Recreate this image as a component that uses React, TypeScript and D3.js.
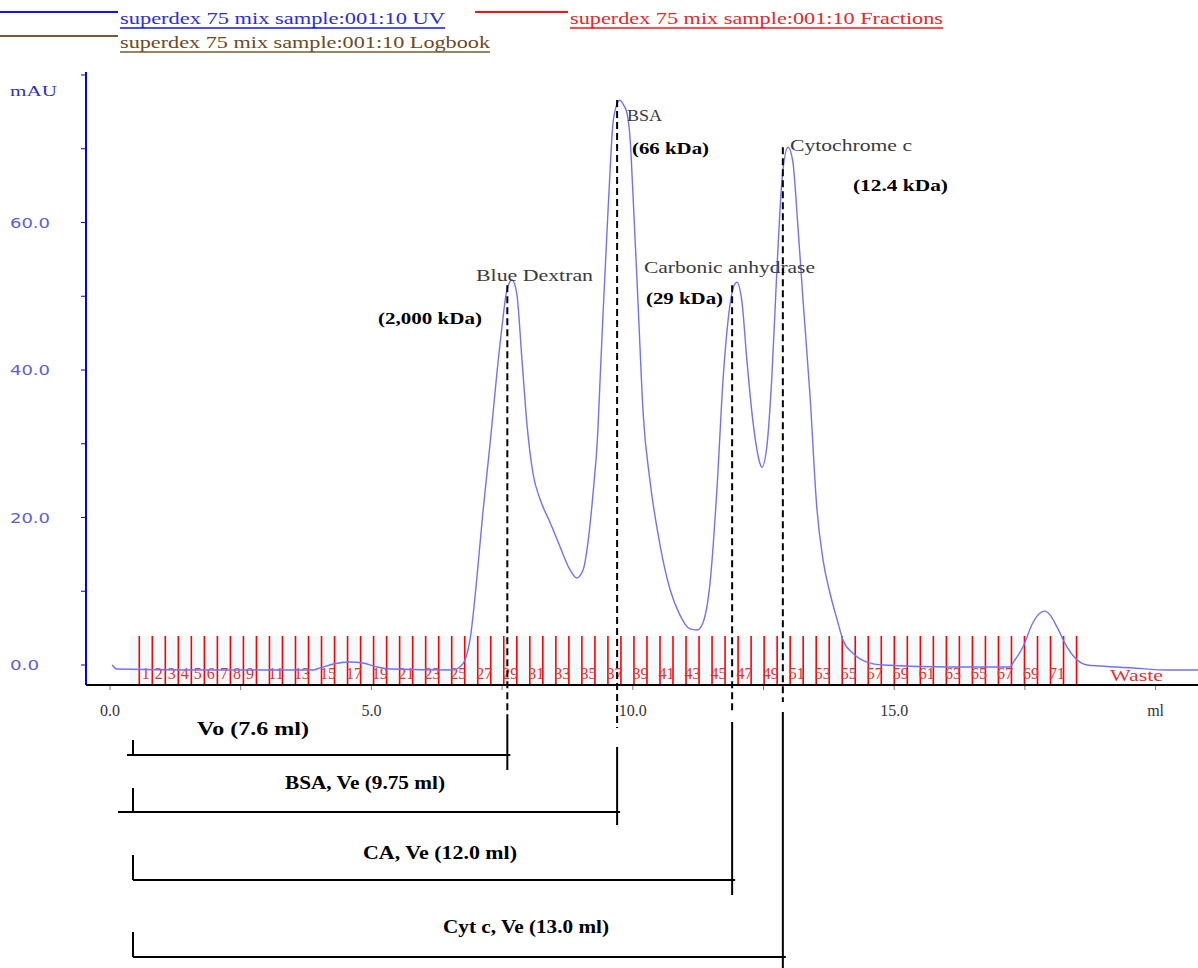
import * as d3 from 'd3';

// UV trace (ml, mAU)
const uvVolume = [
  0.04, 0.13, 1.72, 3.88, 4.02, 4.27, 4.59, 4.84, 5.11, 5.36, 6.56, 6.69, 6.79, 6.89,
  7.02, 7.13, 7.27, 7.4, 7.5, 7.59, 7.69, 7.78, 7.88, 7.98, 8.09, 8.23, 8.42, 8.61,
  8.8, 8.93, 9.05, 9.14, 9.24, 9.33, 9.37, 9.43, 9.51, 9.56, 9.62, 9.7, 9.75, 9.81,
  9.89, 9.95, 10.0, 10.1, 10.2, 10.33, 10.52, 10.71, 10.9, 11.09, 11.23, 11.34, 11.48,
  11.61, 11.73, 11.82, 11.92, 11.99, 12.09, 12.18, 12.3, 12.43, 12.47, 12.57, 12.66,
  12.76, 12.86, 12.97, 13.06, 13.16, 13.26, 13.39, 13.52, 13.64, 13.77, 13.91, 14.02,
  14.21, 14.48, 14.79, 16.07, 17.22, 17.27, 17.46, 17.65, 17.79, 17.88, 17.98, 18.11,
  18.31, 18.5, 18.69, 18.94, 19.57, 20.22, 20.81,
];
const uvAbs = [
  0.0, -0.54, -0.68, -0.68, -0.4, 0.14, 0.41, 0.27, -0.27, -0.54, -0.68, -0.27, 0.68, 3.6,
  12.0, 20.5, 30.0, 39.5, 46.0, 50.8, 52.2, 50.4, 41.4, 32.3, 26.0, 22.4, 19.3, 16.0,
  12.9, 11.8, 12.9, 16.5, 23.3, 31.5, 38.0, 47.5, 59.3, 66.3, 73.4, 76.1, 76.6, 76.1,
  74.8, 71.2, 64.3, 49.1, 33.9, 24.9, 16.3, 10.3, 6.8, 4.9, 4.75, 5.7, 11.3,
  23.9, 39.1, 46.6, 51.1, 51.9, 49.1, 41.5, 32.9, 27.4, 26.8, 30.0, 39.1,
  54.1, 66.3, 70.2, 68.3, 59.3, 49.1, 36.5, 21.3, 14.2, 9.8, 6.1, 3.4,
  1.6, 0.4, 0.0, -0.27, -0.27, 0.27, 2.4, 5.7, 7.05, 7.3, 6.8, 5.2,
  2.4, 0.68, 0.0, -0.14, -0.41, -0.68, -0.68,
];

// axes
const mlTicks = [0, 5, 10, 15, 20];
const mlTickLabels = ['0.0', '5.0', '10.0', '15.0', 'ml'];
const mauTicks = [0, 20, 40, 60, 80];
const mauTickLabels = ['0.0', '20.0', '40.0', '60.0', 'mAU'];

// fractions
const fractionStart = 0.56;
const fractionSize = 0.249;
const fractionCount = 72;
const fractionLabels = [
  1, 2, 3, 4, 5, 6, 7, 8, 9, 11, 13, 15, 17, 19, 21, 23, 25, 27, 29, 31, 33, 35, 37, 39,
  41, 43, 45, 47, 49, 51, 53, 55, 57, 59, 61, 63, 65, 67, 69, 71,
];

// peaks
const peakNames = ['Blue Dextran', 'BSA', 'Carbonic anhydrase', 'Cytochrome c'];
const peakMasses = ['(2,000 kDa)', '(66 kDa)', '(29 kDa)', '(12.4 kDa)'];
const peakVolumes = [7.6, 9.7, 11.9, 12.87];
const peakTops = [51.5, 76.6, 51.5, 70.2];
const elutionLabels = ['Vo (7.6 ml)', 'BSA, Ve (9.75 ml)', 'CA, Ve (12.0 ml)', 'Cyt c, Ve (13.0 ml)'];
const injectionVolume = 0.44;

const legendItems = [
  'superdex 75 mix sample:001:10  UV',
  'superdex 75 mix sample:001:10  Fractions',
  'superdex 75 mix sample:001:10  Logbook',
];

// layout (pixels)
const W = 1198;
const H = 968;
const axisY = 685;
const axisX = 86;
const nameBox = [
  { x: 476, w: 117, y: 275 },
  { x: 627, w: 35, y: 115 },
  { x: 644, w: 171, y: 267 },
  { x: 790, w: 122, y: 145 },
];
const massBox = [
  { x: 378, w: 104, y: 318 },
  { x: 632, w: 77, y: 148 },
  { x: 646, w: 77, y: 298 },
  { x: 853, w: 95, y: 185 },
];
const bracketRow = [
  { y: 755, tick: 740, textY: 728, tx: 197, tw: 112, left: 127, dashEnd: 715, solid: [715, 770] },
  { y: 812, tick: 788, textY: 782, tx: 285, tw: 160, left: 118, dashEnd: 728, solid: [747, 825] },
  { y: 880, tick: 855, textY: 852, tx: 363, tw: 154, left: 133, dashEnd: 712, solid: [722, 895] },
  { y: 957, tick: 932, textY: 926, tx: 443, tw: 166, left: 133, dashEnd: 702, solid: [712, 968] },
];
const legendBox = [
  { lx0: 0, lx1: 118, ly: 12, tx: 120, tw: 325, ty: 18, uy: 28, line: '#1010ff', text: '#2b2be0' },
  { lx0: 475, lx1: 568, ly: 12, tx: 570, tw: 373, ty: 18, uy: 28, line: '#ff1010', text: '#e8262a' },
  { lx0: 0, lx1: 118, ly: 36, tx: 120, tw: 370, ty: 42, uy: 52, line: '#7a5a30', text: '#6b4a22' },
];

const serif = '"Liberation Serif", "Times New Roman", serif';
const sans = '"DejaVu Sans", Verdana, sans-serif';

const App = () => {
  const x = d3.scaleLinear().domain([0, 20]).range([110, 1155.6]);
  const y = d3.scaleLinear().domain([0, 80]).range([665, 75]);

  const points: [number, number][] = uvVolume.map((v, i) => [v, uvAbs[i]]);
  const line = d3
    .line<[number, number]>()
    .x((d) => x(d[0]))
    .y((d) => y(d[1]))
    .curve(d3.curveMonotoneX);

  const bounds = d3.range(fractionCount + 1).map((i) => fractionStart + i * fractionSize);
  const fracTop = 636;
  const minorX = d3.range(0, 20.1, 2.5);
  const minorY = d3.range(0, 80.1, 10);

  return (
    <svg
      width={W}
      height={H}
      style={{ position: 'absolute', left: 0, top: 0, background: '#fff' }}
    >
      {/* legend */}
      {legendItems.map((t, i) => {
        const b = legendBox[i];
        return (
          <g key={t}>
            <line x1={b.lx0} x2={b.lx1} y1={b.ly} y2={b.ly} stroke={b.line} strokeWidth={2} />
            <text
              x={b.tx}
              y={b.ty}
              dominantBaseline="central"
              fontFamily={serif}
              fontSize={16}
              fill={b.text}
              textLength={b.tw}
              lengthAdjust="spacingAndGlyphs"
            >
              {t}
            </text>
            <line x1={b.tx} x2={b.tx + b.tw} y1={b.uy} y2={b.uy} stroke={b.line} strokeWidth={1.5} />
          </g>
        );
      })}

      {/* fraction background */}
      <rect
        x={x(fractionStart) - 10}
        y={fracTop}
        width={x(bounds[bounds.length - 1]) - x(fractionStart) + 12}
        height={axisY - fracTop}
        fill="#f5fafc"
      />

      {/* fractions */}
      {bounds.map((b, i) => (
        <line key={i} x1={x(b)} x2={x(b)} y1={fracTop} y2={axisY} stroke="#ff0000" strokeWidth={1.6} />
      ))}
      {fractionLabels.map((n) => (
        <text
          key={n}
          x={x(fractionStart + (n - 0.5) * fractionSize)}
          y={673}
          textAnchor="middle"
          dominantBaseline="central"
          fontFamily={serif}
          fontSize={16}
          fill="#e83030"
        >
          {n}
        </text>
      ))}
      <text
        x={1110}
        y={675}
        dominantBaseline="central"
        fontFamily={serif}
        fontSize={16}
        fill="#e83030"
        textLength={53}
        lengthAdjust="spacingAndGlyphs"
      >
        Waste
      </text>

      {/* UV curve */}
      <path d={line(points) ?? ''} fill="none" stroke="#7272f2" strokeWidth={1.4} />

      {/* axes */}
      <line x1={axisX} x2={W} y1={axisY} y2={axisY} stroke="#000" strokeWidth={2} />
      <line x1={axisX} x2={axisX} y1={y(80) - 3} y2={axisY} stroke="#0000ff" strokeWidth={2} />
      {minorX.map((v) => (
        <line key={v} x1={x(v)} x2={x(v)} y1={axisY + 1} y2={axisY + 5} stroke="#777" strokeWidth={1} />
      ))}
      {minorY.map((v) => (
        <line key={v} x1={axisX - 5} x2={axisX} y1={y(v)} y2={y(v)} stroke="#0000ff" strokeWidth={1} />
      ))}
      {mlTicks.map((v, i) => (
        <text
          key={v}
          x={x(v)}
          y={710}
          textAnchor="middle"
          dominantBaseline="central"
          fontFamily={serif}
          fontSize={16}
          fill="#333"
        >
          {mlTickLabels[i]}
        </text>
      ))}
      {mauTicks.map((v, i) =>
        i < mauTicks.length - 1 ? (
          <text
            key={v}
            x={10}
            y={y(v)}
            dominantBaseline="central"
            fontFamily={sans}
            fontSize={14}
            fill="#5d5de0"
            textLength={mauTickLabels[i].length === 3 ? 29 : 40}
            lengthAdjust="spacingAndGlyphs"
          >
            {mauTickLabels[i]}
          </text>
        ) : (
          <text
            key={v}
            x={10}
            y={y(v) + 16}
            dominantBaseline="central"
            fontFamily={serif}
            fontSize={15}
            fill="#3030c8"
            textLength={47}
            lengthAdjust="spacingAndGlyphs"
          >
            {mauTickLabels[i]}
          </text>
        )
      )}

      {/* peak annotations */}
      {peakVolumes.map((v, i) => {
        const r = bracketRow[i];
        return (
          <g key={i}>
            <line
              x1={x(v)}
              x2={x(v)}
              y1={y(peakTops[i])}
              y2={r.dashEnd}
              stroke="#000"
              strokeWidth={2}
              strokeDasharray="7,4"
            />
            <line x1={x(v)} x2={x(v)} y1={r.solid[0]} y2={r.solid[1]} stroke="#000" strokeWidth={2} />
            <line x1={r.left} x2={x(v) + 3} y1={r.y} y2={r.y} stroke="#000" strokeWidth={2} />
            <line
              x1={x(injectionVolume)}
              x2={x(injectionVolume)}
              y1={r.tick}
              y2={r.y}
              stroke="#000"
              strokeWidth={2}
            />
            <text
              x={r.tx}
              y={r.textY}
              dominantBaseline="central"
              fontFamily={serif}
              fontWeight="bold"
              fontSize={19}
              fill="#000"
              textLength={r.tw}
              lengthAdjust="spacingAndGlyphs"
            >
              {elutionLabels[i]}
            </text>
            <text
              x={nameBox[i].x}
              y={nameBox[i].y}
              dominantBaseline="central"
              fontFamily={serif}
              fontSize={16}
              fill="#3a3a3a"
              textLength={nameBox[i].w}
              lengthAdjust="spacingAndGlyphs"
            >
              {peakNames[i]}
            </text>
            <text
              x={massBox[i].x}
              y={massBox[i].y}
              dominantBaseline="central"
              fontFamily={serif}
              fontWeight="bold"
              fontSize={17}
              fill="#000"
              textLength={massBox[i].w}
              lengthAdjust="spacingAndGlyphs"
            >
              {peakMasses[i]}
            </text>
          </g>
        );
      })}
    </svg>
  );
};

export default App;
